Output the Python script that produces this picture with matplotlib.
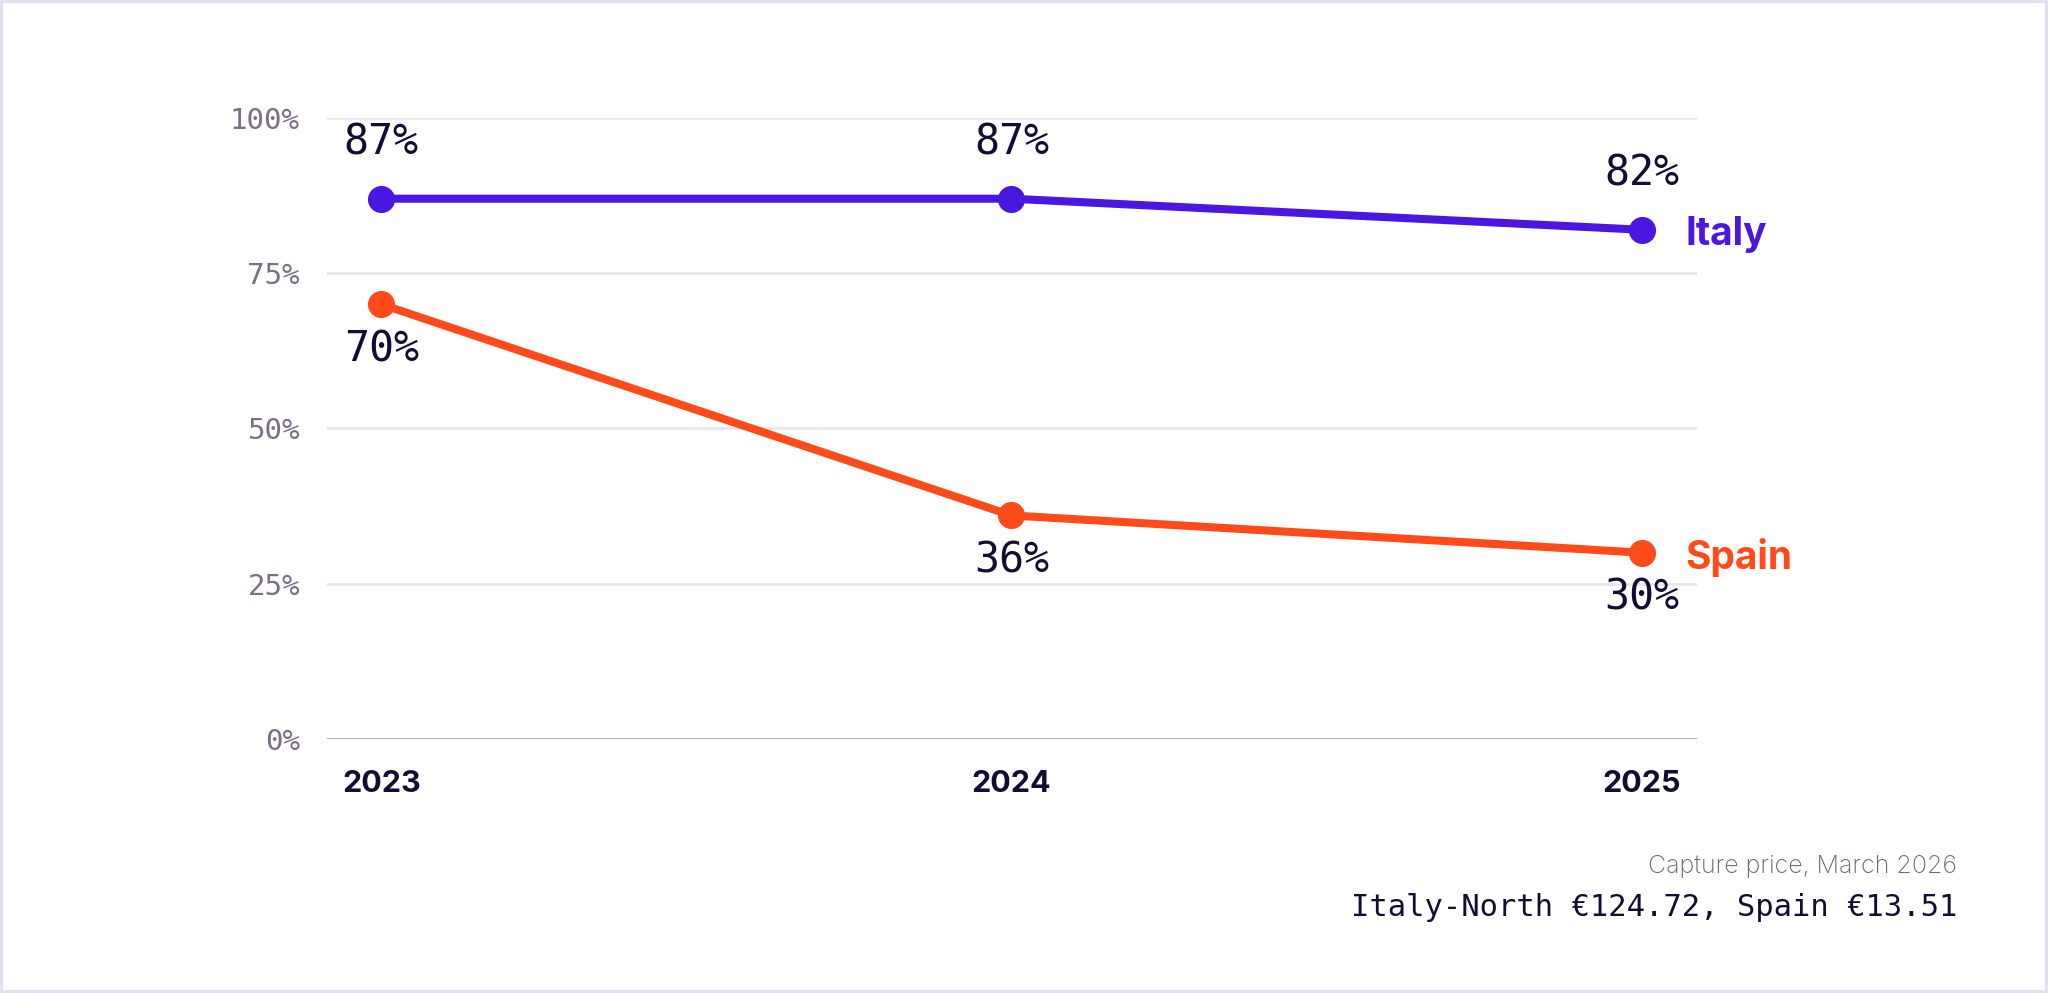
import matplotlib
matplotlib.use("Agg")
import matplotlib.pyplot as plt
from matplotlib.patches import Rectangle

years = ["2023", "2024", "2025"]
italy = [87, 87, 82]
spain = [70, 36, 30]
y_ticks = [0, 25, 50, 75, 100]
note_title = "Capture price, March 2026"
note_body = "Italy-North €124.72, Spain €13.51"

ITALY_COLOR = "#4a16e0"
SPAIN_COLOR = "#ff4a1a"
INK = "#140c33"
MUTED = "#7b6f84"
GRID = "#e7e3ef"
SANS = ["Inter", "DejaVu Sans"]
MONO = "DejaVu Sans Mono"

fig = plt.figure(figsize=(20.48, 9.93), dpi=100)
ax = fig.add_axes([0.1597, 0.2558, 0.6689, 0.6254])

xs = list(range(len(years)))
for series, color in [(italy, ITALY_COLOR), (spain, SPAIN_COLOR)]:
    ax.plot(xs, series, color=color, lw=5.8, marker="o", ms=18.5,
            solid_capstyle="round", zorder=3)

# value labels: Italy above the points, Spain below
for x, v in zip(xs, italy):
    ax.annotate(f"{v}%", (x, v), xytext=(0, 56), textcoords="offset pixels",
                ha="center", va="center", fontsize=30, family=MONO, color=INK)
for x, v in zip(xs, spain):
    ax.annotate(f"{v}%", (x, v), xytext=(0, -45), textcoords="offset pixels",
                ha="center", va="center", fontsize=30, family=MONO, color=INK)

for name, series, color in [("Italy", italy, ITALY_COLOR), ("Spain", spain, SPAIN_COLOR)]:
    ax.annotate(name, (xs[-1], series[-1]), xytext=(44, -5),
                textcoords="offset pixels", ha="left", va="center",
                fontsize=28, fontweight="bold", family=SANS, color=color)

ax.set_xlim(-0.086, 2.088)
ax.set_ylim(0, 100)
ax.set_yticks(y_ticks)
ax.set_yticklabels([f"{t}%" for t in y_ticks], family=MONO,
                   fontsize=21, color=MUTED)
ax.set_xticks(xs)
ax.set_xticklabels(years, family=SANS, fontweight="bold",
                   fontsize=22, color=INK)
ax.tick_params(axis="both", length=0)
ax.tick_params(axis="y", pad=19.5)
ax.tick_params(axis="x", pad=22)

for t in y_ticks[1:]:
    ax.axhline(t, color=GRID, lw=1.8, zorder=1)
ax.axhline(0, color="#aba3b8", lw=2.0, zorder=1)
for s in ax.spines.values():
    s.set_visible(False)

fig.text(1957 / 2048, 1 - 866 / 993, note_title, ha="right", va="center",
         fontsize=18, fontweight="light", family=SANS, color="#6f6579")
fig.text(1957 / 2048, 1 - 908 / 993, note_body, ha="right", va="center",
         fontsize=22, family=MONO, color=INK)

fig.patches.append(Rectangle((0.0005, 0.001), 0.999, 0.998, transform=fig.transFigure,
                             fill=False, edgecolor="#e4def0", lw=3))

fig.savefig("out.png", dpi=100)
